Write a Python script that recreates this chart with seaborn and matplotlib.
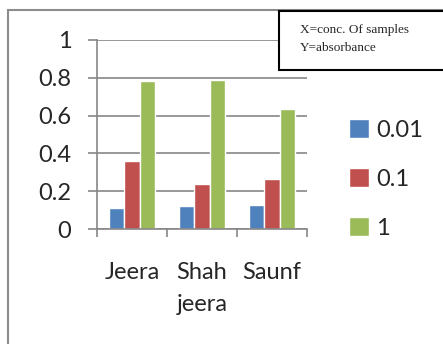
import pandas as pd
import matplotlib.pyplot as plt
import seaborn as sns
from matplotlib.patches import Rectangle
from matplotlib.ticker import FixedLocator

samples = ["Jeera", "Shah\njeera", "Saunf"]
concs = ["0.01", "0.1", "1"]
abs_001 = [0.111, 0.122, 0.127]
abs_01 = [0.358, 0.238, 0.263]
abs_1 = [0.781, 0.787, 0.635]
y_ticks = [0, 0.2, 0.4, 0.6, 0.8, 1]
y_labels = ["0", "0.2", "0.4", "0.6", "0.8", "1"]

df = pd.DataFrame({
    "sample": samples * 3,
    "conc": [c for c in concs for _ in samples],
    "absorbance": abs_001 + abs_01 + abs_1,
})

sns.set_theme(style="white")
plt.rcParams["font.family"] = ["Lato", "DejaVu Sans"]

fig = plt.figure(figsize=(4.43, 3.44), dpi=100)
ax = fig.add_axes([97 / 443, 1 - 229 / 344, 210 / 443, 189 / 344])

palette = ["#4F81BD", "#C0504D", "#9BBB59"]
sns.barplot(data=df, x="sample", y="absorbance", hue="conc", order=samples,
            hue_order=concs, palette=palette, width=0.67, gap=0,
            saturation=1, ax=ax, legend=True)

ax.set_xlim(-0.5, 2.5)
ax.set_ylim(0, 1)
ax.yaxis.set_major_locator(FixedLocator(y_ticks))
ax.set_yticklabels(y_labels)
ax.grid(axis="y", color="#868686", lw=1.2)
ax.set_axisbelow(True)
ax.set_xlabel("")
ax.set_ylabel("")

for s in ["top", "right"]:
    ax.spines[s].set_visible(False)
for s in ["left", "bottom"]:
    ax.spines[s].set_color("#868686")
    ax.spines[s].set_linewidth(1.2)

ax.tick_params(axis="y", which="major", length=6.5, width=1.2, color="#868686",
               direction="out", left=True, labelsize=17, pad=12)
ax.tick_params(axis="x", which="major", length=0, labelsize=17, pad=24)
ax.xaxis.set_minor_locator(FixedLocator([-0.5, 0.5, 1.5, 2.5]))
ax.tick_params(axis="x", which="minor", length=6, width=1.2, color="#868686",
               direction="out", bottom=True)
for lbl in ax.get_xticklabels():
    lbl.set_verticalalignment("top")
    lbl.set_linespacing(1.6)

handles, labels = ax.get_legend_handles_labels()
ax.legend(handles, labels, loc="center left", bbox_to_anchor=(349 / 443, 1 - 179 / 344),
          bbox_transform=fig.transFigure, frameon=False, fontsize=17,
          handlelength=0.85, handleheight=0.85, handletextpad=0.3,
          labelspacing=1.15, borderaxespad=0, borderpad=0)

# outer chart frame
fig.patches.append(Rectangle((8 / 443, -0.1), 1.1, 1.1 - 10 / 344,
                             transform=fig.transFigure, fill=False,
                             edgecolor="#8c8c8c", lw=1.5, zorder=0))

# text box
fig.patches.append(Rectangle((279 / 443, 1 - 70 / 344), 0.5, 59 / 344,
                             transform=fig.transFigure, facecolor="white",
                             edgecolor="black", lw=1.5, zorder=5))
fig.text(300 / 443, 1 - 30 / 344, "X=conc. Of samples", family="Liberation Serif",
         fontsize=9.5, va="center", ha="left", zorder=6)
fig.text(300 / 443, 1 - 48 / 344, "Y=absorbance", family="Liberation Serif",
         fontsize=9.5, va="center", ha="left", zorder=6)

fig.savefig("out.png", dpi=100, facecolor="white")
